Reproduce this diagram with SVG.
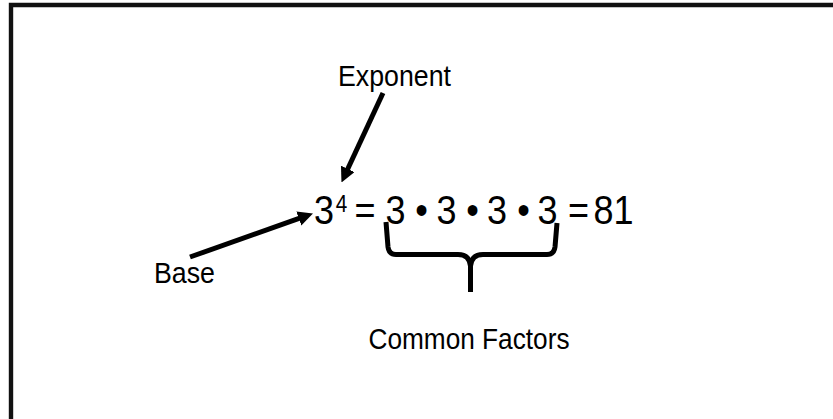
<svg xmlns="http://www.w3.org/2000/svg" width="833" height="419" viewBox="0 0 833 419">
  <style>
    .lbl { font-family: "Liberation Sans", Arial, sans-serif; font-size: 29px; fill: #000; }
    .eq { font-family: "Liberation Sans", Arial, sans-serif; font-size: 40px; fill: #000; text-anchor: middle; }
    .sup { font-size: 23px; }
    .arrow { stroke: #000; stroke-width: 5; fill: none; marker-end: url(#head); }
    .brace { stroke: #000; stroke-width: 5; fill: none; stroke-linejoin: round; }
  </style>
  <defs>
    <marker id="head" markerUnits="userSpaceOnUse" viewBox="0 0 15 15" markerWidth="15" markerHeight="15" refX="4" refY="7.5" orient="auto">
      <path d="M0,0 L15,7.5 L0,15 z" fill="#000"/>
    </marker>
  </defs>
  <rect width="833" height="419" fill="#fff"/>
  <path id="frame" d="M11,419 L11,5 L833,5" fill="none" stroke="#111" stroke-width="4.4"/>

  <g id="exponent">
    <text class="lbl" x="338" y="86" textLength="113" lengthAdjust="spacingAndGlyphs">Exponent</text>
  </g>
  <g id="base">
    <text class="lbl" x="154" y="283" textLength="61" lengthAdjust="spacingAndGlyphs">Base</text>
  </g>
  <g id="equation">
    <text class="eq" y="224" transform="scale(0.9,1)"><tspan x="360">3</tspan><tspan class="sup" x="379.4" y="212">4</tspan><tspan x="405.6" y="224">=</tspan><tspan x="439.4">3</tspan><tspan x="468.3">•</tspan><tspan x="496.1">3</tspan><tspan x="525">•</tspan><tspan x="552.2">3</tspan><tspan x="581.7">•</tspan><tspan x="608.3">3</tspan><tspan x="642.8">=</tspan><tspan x="681.7">81</tspan></text>
  </g>
  <g id="common-factors">
    <text class="lbl" x="368.5" y="349" textLength="201" lengthAdjust="spacingAndGlyphs">Common Factors</text>
  </g>

  <g id="connectors">
    <line class="arrow" x1="383" y1="93" x2="346.1" y2="172.5"/>
    <line class="arrow" x1="190" y1="257" x2="302.6" y2="217.2"/>
    <path class="brace" d="M386,222 L388,247 Q389,254.5 396,254.5 L458,254.5 Q469.5,254.5 470.5,266 L470.5,292"/>
    <path class="brace" d="M557,223 L555,247 Q554,254.5 547,254.5 L483,254.5 Q471.5,254.5 470.5,266"/>
  </g>
</svg>
